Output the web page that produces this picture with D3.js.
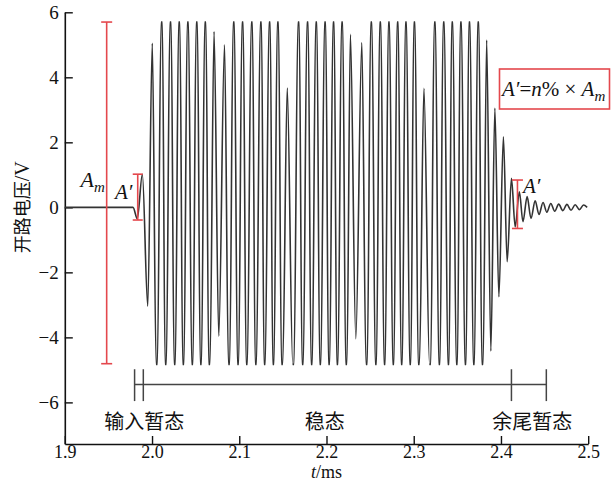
<!DOCTYPE html>
<html>
<head>
<meta charset="utf-8">
<script src="https://cdn.jsdelivr.net/npm/d3@7"></script>
<style>
  body { margin: 0; background: #fff; }
  svg text { font-family: "Liberation Serif", "Times New Roman", serif; fill: #111; }
  .cjk { font-family: "Noto Sans CJK SC", sans-serif; }
</style>
</head>
<body>
<svg id="chart" width="612" height="482"></svg>
<script>
// Axis ticks
const xTicks = [1.9, 2.0, 2.1, 2.2, 2.3, 2.4, 2.5];
const xTickLabels = ["1.9", "2.0", "2.1", "2.2", "2.3", "2.4", "2.5"];
const yTicks = [-6, -4, -2, 0, 2, 4, 6];
const yTickLabels = ["\u22126", "\u22124", "\u22122", "0", "2", "4", "6"];

// Waveform extrema (t in ms, voltage in V)
const inputT = [1.9000, 1.9782, 1.9831, 1.9889, 1.9951, 2.0003];
const inputV = [0, 0, -0.35, 1.02, -3.04, 5.05];

const steadyT = [
  2.0054, 2.0111, 2.0157, 2.0212, 2.0260, 2.0312, 2.0359, 2.0411, 2.0462, 2.0513,
  2.0560, 2.0611, 2.0657, 2.0711, 2.0765, 2.0831, 2.0883, 2.0937, 2.0986, 2.1038,
  2.1086, 2.1144, 2.1190, 2.1248, 2.1291, 2.1348, 2.1391, 2.1443, 2.1491, 2.1550,
  2.1620, 2.1680, 2.1727, 2.1783, 2.1830, 2.1883, 2.1929, 2.1984, 2.2030, 2.2081,
  2.2125, 2.2179, 2.2227, 2.2274, 2.2336, 2.2405, 2.2460, 2.2514, 2.2566, 2.2617,
  2.2666, 2.2716, 2.2766, 2.2816, 2.2862, 2.2911, 2.2960, 2.3008, 2.3058, 2.3117,
  2.3188, 2.3242, 2.3294, 2.3344, 2.3398, 2.3442, 2.3494, 2.3541, 2.3593, 2.3639,
  2.3689, 2.3740, 2.3788
];
const steadyV = [
  -4.83, 5.70, -4.83, 5.70, -4.83, 5.70, -4.83, 5.70, -4.83, 5.70,
  -4.83, 5.70, -4.83, 5.41, -3.96, 5.00, -4.83, 5.70, -4.83, 5.70,
  -4.83, 5.70, -4.83, 5.70, -4.83, 5.70, -4.83, 5.70, -4.83, 3.67,
  -4.83, 5.70, -4.83, 5.70, -4.83, 5.70, -4.83, 5.70, -4.83, 5.70,
  -4.83, 5.70, -4.83, 5.32, -4.04, 5.07, -4.83, 5.70, -4.83, 5.70,
  -4.83, 5.70, -4.83, 5.70, -4.83, 5.70, -4.83, 5.70, -4.83, 3.66,
  -4.83, 5.70, -4.83, 5.70, -4.83, 5.70, -4.83, 5.70, -4.83, 5.70,
  -4.83, 5.70, -4.83
];

const tailT = [
  2.3836, 2.3884, 2.3930, 2.3976, 2.4028, 2.4071, 2.4120, 2.4163, 2.4211, 2.4252,
  2.4300, 2.4344, 2.4392, 2.4436, 2.4482, 2.4526, 2.4571, 2.4616, 2.4662, 2.4709,
  2.4756, 2.4803, 2.4851, 2.4899, 2.4946, 2.4988
];
const tailV = [
  5.15, -4.42, 3.05, -2.75, 2.17, -1.67, 0.89, -0.60, 0.48, -0.44,
  0.33, -0.34, 0.20, -0.22, 0.15, -0.15, 0.12, -0.12, 0.10, -0.10,
  0.09, -0.09, 0.08, -0.07, 0.07, 0
];

// clipped crests: level and width of the flat part (ms)
const clipV = [-4.83, 5.70];
const clipHold = 0.0014;

// Annotations: [t, low, high]
const amBar = [1.948, -4.81, 5.70];
const aLeftBar = [1.9836, -0.39, 1.02];
const aRightBar = [2.4189, -0.65, 0.84];

// Phase brackets
const phaseNames = ["输入暂态", "稳态", "余尾暂态"];
const phaseBounds = [1.980, 1.990, 2.412, 2.452];
const phaseLabelT = [1.991, 2.198, 2.436];

const red = "#e4484d";
const svg = d3.select("#chart");

const x = d3.scaleLinear().domain([1.9, 2.5]).range([64.8, 588.2]);
const y = d3.scaleLinear().domain([-7.28, 6]).range([444, 12.3]);

// Axes
const xAxis = d3.axisBottom(x)
    .tickValues(xTicks)
    .tickFormat((d, i) => xTickLabels[i])
    .tickSizeInner(-8)
    .tickSizeOuter(0)
    .tickPadding(1);
const gx = svg.append("g")
    .attr("transform", "translate(0," + y.range()[0] + ")")
    .call(xAxis);

const yAxis = d3.axisLeft(y)
    .tickValues(yTicks)
    .tickFormat((d, i) => yTickLabels[i])
    .tickSizeInner(-8)
    .tickSizeOuter(0)
    .tickPadding(6);
const gy = svg.append("g")
    .attr("transform", "translate(" + x.range()[0] + ",0)")
    .call(yAxis);

[gx, gy].forEach(g => {
    g.attr("font-family", null).attr("font-size", null);
    g.select(".domain").attr("stroke", "#111").attr("stroke-width", 1.6);
    g.selectAll(".tick line").attr("stroke", "#111").attr("stroke-width", 1.4);
    g.selectAll(".tick text")
        .style("font-family", "'Liberation Serif', serif")
        .style("font-size", "19px")
        .attr("fill", "#111");
});
gx.selectAll(".tick text").style("font-size", "18px");

// Axis titles
svg.append("text")
    .attr("class", "cjk")
    .attr("transform", "translate(29," + y(0) + ") rotate(-90)")
    .attr("text-anchor", "middle")
    .attr("font-size", 18)
    .text("开路电压")
    .append("tspan")
        .style("font-family", "Liberation Serif")
        .attr("font-size", 20)
        .text("/V");

const xt = svg.append("text")
    .attr("x", x(2.2))
    .attr("y", 477.5)
    .attr("text-anchor", "middle")
    .attr("font-size", 18);
xt.append("tspan").attr("font-style", "italic").text("t");
xt.append("tspan").text("/ms");

// Waveform
const waveT = inputT.concat(steadyT, tailT);
const waveV = inputV.concat(steadyV, tailV);
const pts = [];
waveT.forEach((t, i) => {
    const v = waveV[i];
    if (v >= clipV[1] || v <= clipV[0]) {
        pts.push([t - clipHold / 2, v], [t + clipHold / 2, v]);
    } else {
        pts.push([t, v]);
    }
});

const line = d3.line()
    .x(d => x(d[0]))
    .y(d => y(d[1]))
    .curve(d3.curveMonotoneX);

svg.append("path")
    .datum(pts)
    .attr("fill", "none")
    .attr("stroke", "#333")
    .attr("stroke-width", 1.6)
    .attr("stroke-linejoin", "round")
    .attr("d", line);

// Red amplitude bars
function redBar(b, cap) {
    const g = svg.append("g").attr("stroke", red).attr("stroke-width", 1.6);
    g.append("line").attr("x1", x(b[0])).attr("x2", x(b[0]))
        .attr("y1", y(b[1])).attr("y2", y(b[2]));
    [b[1], b[2]].forEach(v => {
        g.append("line").attr("x1", x(b[0]) - cap).attr("x2", x(b[0]) + cap)
            .attr("y1", y(v)).attr("y2", y(v));
    });
}
redBar(amBar, 5.5);
redBar(aLeftBar, 5);
redBar(aRightBar, 5.5);

// A_m label
const am = svg.append("text").attr("x", 80.5).attr("y", 187).attr("font-size", 22);
am.append("tspan").attr("font-style", "italic").text("A");
am.append("tspan").attr("font-style", "italic").attr("font-size", 15).attr("dy", 5).text("m");

svg.append("text").attr("x", 115).attr("y", 199).attr("font-size", 21)
    .attr("font-style", "italic").text("A\u2032");
svg.append("text").attr("x", 523).attr("y", 193).attr("font-size", 21)
    .attr("font-style", "italic").text("A\u2032");

// Formula box
svg.append("rect")
    .attr("x", 499.5).attr("y", 69)
    .attr("width", 110).attr("height", 40)
    .attr("fill", "#fff")
    .attr("stroke", red)
    .attr("stroke-width", 1.6);
const f = svg.append("text").attr("x", 502).attr("y", 96).attr("font-size", 21);
f.append("tspan").attr("font-style", "italic").text("A\u2032");
f.append("tspan").text("=");
f.append("tspan").attr("font-style", "italic").text("n");
f.append("tspan").text("% \u00d7 ");
f.append("tspan").attr("font-style", "italic").text("A");
f.append("tspan").attr("font-style", "italic").attr("font-size", 15).attr("dy", 5).text("m");

// Phase brackets
const brY = -5.45;
const gb = svg.append("g").attr("stroke", "#444").attr("stroke-width", 1.5);
gb.append("line")
    .attr("x1", x(phaseBounds[0])).attr("x2", x(phaseBounds[3]))
    .attr("y1", y(brY)).attr("y2", y(brY));
gb.selectAll("line.bar")
    .data(phaseBounds)
    .enter()
    .append("line")
        .attr("class", "bar")
        .attr("x1", d => x(d)).attr("x2", d => x(d))
        .attr("y1", y(-4.98)).attr("y2", y(-5.96));

svg.selectAll("text.phase")
    .data(phaseNames)
    .enter()
    .append("text")
        .attr("class", "phase cjk")
        .attr("x", (d, i) => x(phaseLabelT[i]))
        .attr("y", 429)
        .attr("text-anchor", "middle")
        .attr("font-size", 20)
        .text(d => d);
</script>
</body>
</html>
